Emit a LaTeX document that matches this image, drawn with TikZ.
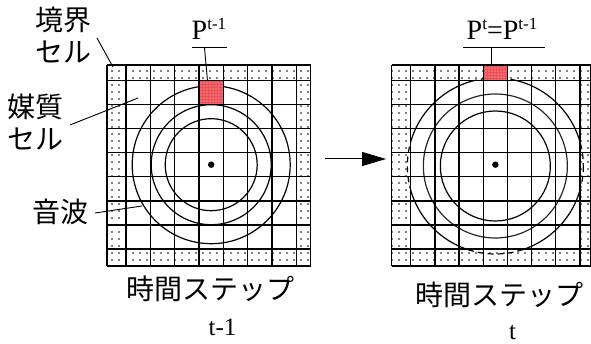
\documentclass[tikz,border=0pt]{standalone}
\usepackage{fontspec}
\setmainfont{Liberation Serif}
\newfontfamily\jp{Noto Sans CJK JP}
\usetikzlibrary{arrows.meta,patterns}
\pgfdeclarepatternformonly{bdots}{\pgfqpoint{-1pt}{-1pt}}{\pgfqpoint{1pt}{1pt}}{\pgfqpoint{7pt}{7pt}}{\pgfpathcircle{\pgfqpoint{0pt}{0pt}}{0.9pt}\pgfusepath{fill}}
\pgfdeclarepatternformonly{rdots}{\pgfqpoint{-1pt}{-1pt}}{\pgfqpoint{1pt}{1pt}}{\pgfqpoint{3pt}{3pt}}{\pgfpathcircle{\pgfqpoint{0pt}{0pt}}{0.55pt}\pgfusepath{fill}}
\definecolor{cellred}{RGB}{238,80,88}
\newcommand{\supr}[1]{\raisebox{9.5pt}{\fontsize{17}{19}\selectfont #1}}
\begin{document}
\begin{tikzpicture}[x=1pt,y=-1pt,
  gridline/.style={line width=1.3pt},
  wave/.style={line width=1.2pt},
  lead/.style={line width=0.9pt},
  jplabel/.style={font=\jp\fontsize{28}{30}\selectfont, inner sep=0pt},
  mlabel/.style={font=\fontsize{25}{27}\selectfont, inner sep=0pt},
  plabel/.style={font=\fontsize{28}{30}\selectfont, inner sep=0pt},
  bfill/.style={pattern=bdots, pattern color=black, even odd rule},
  redcell/.style={fill=cellred},
  reddots/.style={pattern=rdots, pattern color=white!70!cellred}]
\useasboundingbox (0,0) rectangle (591,344);
\def\Ys{65,80.5,104.57,128.64,152.71,176.79,200.86,224.93,249,266}
% ---------- left grid ----------
\fill[bfill] (107,65) rectangle (310.7,266) (126,80.5) rectangle (296.5,249);
\draw[wave] (211.2,164.7) circle[radius=79];
\draw[wave] (211.2,164.7) circle[radius=60];
\draw[wave] (211.2,164.7) circle[radius=46];
\fill[redcell] (199.07,80.5) rectangle (223.43,104.57);
\fill[reddots] (199.07,80.5) rectangle (223.43,104.57);
\foreach \x in {107,126,150.36,174.71,199.07,223.43,247.79,272.14,296.5,310.7}
  \draw[gridline] (\x,65) -- (\x,266);
\foreach \y in \Ys
  \draw[gridline] (107,\y) -- (310.7,\y);
\fill (211.2,164.7) circle[radius=3.2];
% ---------- right grid ----------
\fill[bfill] (391.7,65) rectangle (590.5,266) (410.7,80.5) rectangle (580,249);
\begin{scope}
  \clip (410.7,80.5) rectangle (580,249);
  \draw[wave] (495.35,166) circle[radius=88];
\end{scope}
\begin{scope}[even odd rule]
  \clip (391.7,65) rectangle (591,266) (410.7,80.5) rectangle (580,249);
  \draw[wave, dash pattern=on 6pt off 4pt] (495.35,166) circle[radius=88];
\end{scope}
\draw[wave, black!85] (495.35,166) circle[radius=72];
\draw[wave] (495.35,166) circle[radius=55];
\fill[redcell] (483.26,65) rectangle (507.44,80.5);
\fill[reddots] (483.26,65) rectangle (507.44,80.5);
\foreach \x in {391.7,410.7,434.89,459.07,483.26,507.44,531.63,555.81,580,590.5}
  \draw[gridline] (\x,65) -- (\x,266);
\foreach \y in \Ys
  \draw[gridline] (391.7,\y) -- (590.5,\y);
\fill (495.35,164.7) circle[radius=3.2];
% ---------- labels ----------
\node[jplabel] (kyo) at (63,19.5) {境界};
\node[jplabel] (kyosel) at (63.5,52.5) {セル};
\node[jplabel] (bai) at (35,106.5) {媒質};
\node[jplabel] (baisel) at (35,139) {セル};
\node[jplabel] (onpa) at (60.5,211.5) {音波};
\node[jplabel] (stepL) at (210,288.5) {時間ステップ};
\node[jplabel] (stepR) at (499,295) {時間ステップ};
\node[mlabel] (tL) at (222.5,327) {t-1};
\node[mlabel] (tR) at (512.5,333) {t};
\node[plabel, anchor=base west] (pL) at (191.5,39.5) {P\supr{t-1}};
\node[plabel, anchor=base west] (pR) at (466.5,39.5) {P\supr{t}=P\supr{t-1}};
% ---------- leaders ----------
\coordinate (kyoA) at (97,38);   \coordinate (kyoB) at (113,67);
\coordinate (baiA) at (70,125);  \coordinate (baiB) at (138,98);
\coordinate (onA) at (95,213);   \coordinate (onB) at (142,206);
\draw[lead] (kyoA) -- (kyoB);
\draw[lead] (baiA) -- (baiB);
\draw[lead] (onA) -- (onB);
\coordinate (barL1) at (192,47.7); \coordinate (barL2) at (227,47.7);
\coordinate (barLm) at (204.5,47.7); \coordinate (cellL) at (207.5,81);
\draw[lead] (barL1) -- (barL2);
\draw[lead] (barLm) -- (cellL);
\coordinate (barR1) at (463,47.7); \coordinate (barR2) at (545,47.7);
\coordinate (barRm) at (491.7,47.7); \coordinate (cellR) at (491.7,65);
\draw[lead] (barR1) -- (barR2);
\draw[lead] (barRm) -- (cellR);
% ---------- arrow ----------
\coordinate (arA) at (325,159); \coordinate (arB) at (386,159);
\draw[line width=1pt, -{Triangle[length=24pt,width=14pt]}] (arA) -- (arB);
\end{tikzpicture}
\end{document}
